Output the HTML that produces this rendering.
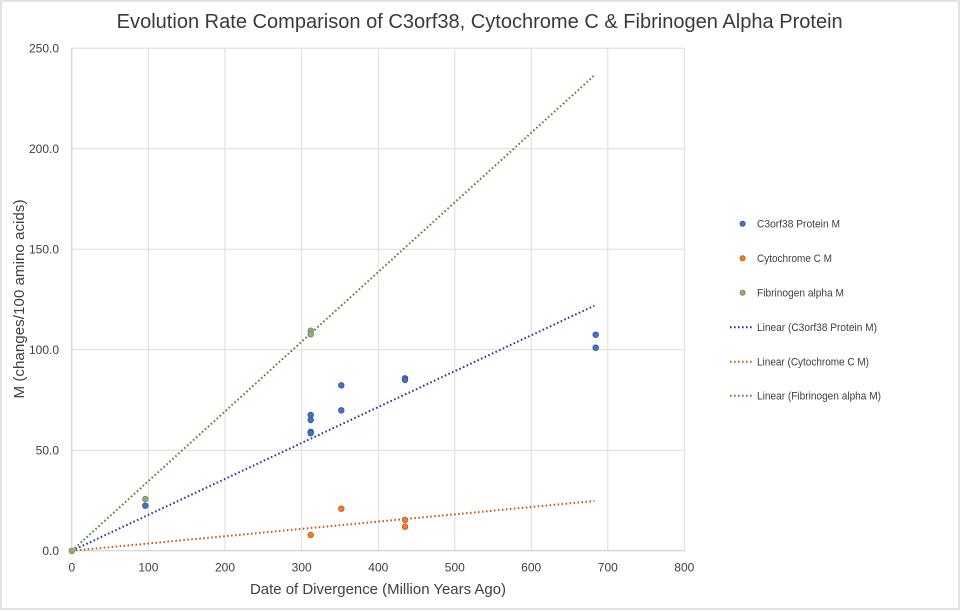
<!DOCTYPE html>
<html>
<head>
<meta charset="utf-8">
<style>
html,body{margin:0;padding:0;background:#fff;}
svg{display:block;}
text{font-family:"Liberation Sans",sans-serif;fill:#404040;}
</style>
</head>
<body>
<svg width="960" height="611" viewBox="0 0 960 611" xmlns="http://www.w3.org/2000/svg">
<rect x="0" y="0" width="960" height="611" fill="#fff"/>
<rect x="1" y="1" width="958" height="608" fill="none" stroke="#d9d9d9" stroke-width="1.5"/>

<!-- title -->
<text x="479.7" y="28" font-size="20" text-anchor="middle" textLength="726" lengthAdjust="spacingAndGlyphs" style="fill:#3a3a3a">Evolution Rate Comparison of C3orf38, Cytochrome C &amp; Fibrinogen Alpha Protein</text>

<!-- gridlines -->
<g stroke="#dcdcdc" stroke-width="1">
<line x1="71.8" y1="48.3" x2="684.3" y2="48.3"/>
<line x1="71.8" y1="148.8" x2="684.3" y2="148.8"/>
<line x1="71.8" y1="249.3" x2="684.3" y2="249.3"/>
<line x1="71.8" y1="349.8" x2="684.3" y2="349.8"/>
<line x1="71.8" y1="450.3" x2="684.3" y2="450.3"/>
<line x1="148.4" y1="48.3" x2="148.4" y2="550.8"/>
<line x1="225" y1="48.3" x2="225" y2="550.8"/>
<line x1="301.7" y1="48.3" x2="301.7" y2="550.8"/>
<line x1="378.3" y1="48.3" x2="378.3" y2="550.8"/>
<line x1="454.8" y1="48.3" x2="454.8" y2="550.8"/>
<line x1="531.2" y1="48.3" x2="531.2" y2="550.8"/>
<line x1="607.8" y1="48.3" x2="607.8" y2="550.8"/>
<line x1="684.3" y1="48.3" x2="684.3" y2="550.8"/>
</g>
<g stroke="#c8c8c8" stroke-width="1">
<line x1="71.8" y1="550.8" x2="684.3" y2="550.8"/>
<line x1="71.8" y1="48.3" x2="71.8" y2="550.8"/>
</g>

<!-- y tick labels -->
<g font-size="12" text-anchor="end">
<text x="59" y="52.5">250.0</text>
<text x="59" y="153">200.0</text>
<text x="59" y="253.5">150.0</text>
<text x="59" y="354">100.0</text>
<text x="59" y="454.5">50.0</text>
<text x="59" y="555">0.0</text>
</g>
<!-- x tick labels -->
<g font-size="12" text-anchor="middle">
<text x="71.8" y="571.7">0</text>
<text x="148.4" y="571.7">100</text>
<text x="225" y="571.7">200</text>
<text x="301.7" y="571.7">300</text>
<text x="378.3" y="571.7">400</text>
<text x="454.8" y="571.7">500</text>
<text x="531.2" y="571.7">600</text>
<text x="607.8" y="571.7">700</text>
<text x="684.3" y="571.7">800</text>
</g>

<!-- axis titles -->
<text x="250" y="594" font-size="15" textLength="256" lengthAdjust="spacingAndGlyphs">Date of Divergence (Million Years Ago)</text>
<text transform="translate(24,398.5) rotate(-90)" x="0" y="0" font-size="15" textLength="199" lengthAdjust="spacingAndGlyphs">M (changes/100 amino acids)</text>

<!-- trendlines -->
<g stroke-width="2" stroke-dasharray="1.6 2.4" fill="none">
<line x1="71.8" y1="550.8" x2="594.3" y2="305.7" stroke="#203a8c"/>
<line x1="71.8" y1="550.8" x2="594.3" y2="501" stroke="#c55a11"/>
<line x1="71.8" y1="550.8" x2="594" y2="75.7" stroke="#548235"/>
</g>

<!-- markers: blue -->
<g fill="#4472c4" stroke="#2f5597" stroke-width="0.8">
<circle cx="145.3" cy="505.7" r="2.8"/>
<circle cx="310.7" cy="415" r="2.8"/>
<circle cx="310.7" cy="420" r="2.8"/>
<circle cx="310.7" cy="431.8" r="2.8"/>
<circle cx="310.7" cy="433.2" r="2.8"/>
<circle cx="341.3" cy="385.3" r="2.8"/>
<circle cx="341.3" cy="410.3" r="2.8"/>
<circle cx="405" cy="378.3" r="2.8"/>
<circle cx="405" cy="379.8" r="2.8"/>
<circle cx="595.7" cy="334.7" r="2.8"/>
<circle cx="595.7" cy="347.7" r="2.8"/>
</g>
<!-- orange -->
<g fill="#ed7d31" stroke="#c55a11" stroke-width="0.8">
<circle cx="310.7" cy="535" r="2.8"/>
<circle cx="341.3" cy="508.7" r="2.8"/>
<circle cx="405" cy="520" r="2.8"/>
<circle cx="405" cy="526.7" r="2.8"/>
</g>
<!-- green -->
<g fill="#8fae78" stroke="#6b8a55" stroke-width="0.8">
<circle cx="71.8" cy="550.8" r="2.8"/>
<circle cx="145.3" cy="499" r="2.8"/>
<circle cx="310.7" cy="330.7" r="2.8"/>
<circle cx="310.7" cy="334.3" r="2.8"/>
</g>

<!-- legend -->
<circle cx="742.6" cy="223.7" r="2.6" fill="#4472c4" stroke="#2f5597" stroke-width="0.8"/>
<circle cx="742.6" cy="258.3" r="2.6" fill="#ed7d31" stroke="#c55a11" stroke-width="0.8"/>
<circle cx="742.6" cy="292.7" r="2.6" fill="#8fae78" stroke="#6b8a55" stroke-width="0.8"/>
<g stroke-width="2" stroke-dasharray="1.6 2.4">
<line x1="730" y1="327.3" x2="753" y2="327.3" stroke="#203a8c"/>
<line x1="730" y1="361.7" x2="753" y2="361.7" stroke="#c55a11"/>
<line x1="730" y1="395.7" x2="753" y2="395.7" stroke="#548235"/>
</g>
<g font-size="11">
<text x="757" y="227.5" textLength="83" lengthAdjust="spacingAndGlyphs">C3orf38 Protein M</text>
<text x="757" y="262" textLength="75" lengthAdjust="spacingAndGlyphs">Cytochrome C M</text>
<text x="757" y="296.5" textLength="87" lengthAdjust="spacingAndGlyphs">Fibrinogen alpha M</text>
<text x="757" y="331" textLength="120" lengthAdjust="spacingAndGlyphs">Linear (C3orf38 Protein M)</text>
<text x="757" y="365.5" textLength="112" lengthAdjust="spacingAndGlyphs">Linear (Cytochrome C M)</text>
<text x="757" y="399.5" textLength="124" lengthAdjust="spacingAndGlyphs">Linear (Fibrinogen alpha M)</text>
</g>
</svg>
</body>
</html>
